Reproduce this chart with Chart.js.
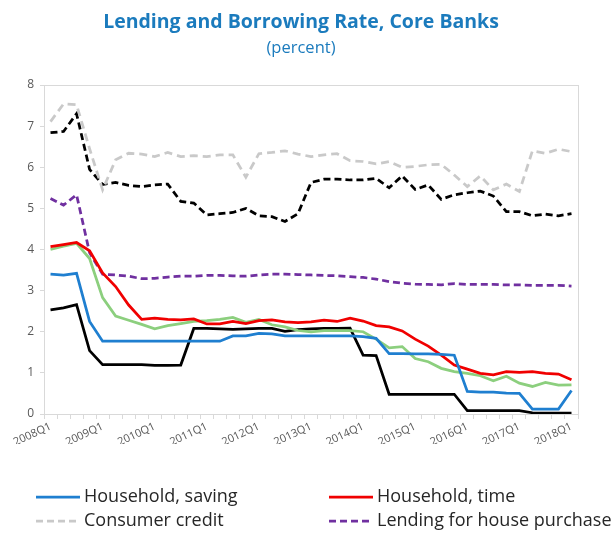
<!DOCTYPE html>
<html>
<head>
<meta charset="utf-8">
<title>Lending and Borrowing Rate, Core Banks</title>
<script src="https://cdn.jsdelivr.net/npm/chart.js@4/dist/chart.umd.min.js"></script>
<style>
  html, body { margin: 0; padding: 0; background: #ffffff; }
  #wrap { width: 611px; height: 533px; position: relative; }
</style>
</head>
<body>
<div id="wrap"><canvas id="chart"></canvas></div>
<script>
// Quarterly rates, percent
const quarters = [
  '2008Q1','2008Q2','2008Q3','2008Q4','2009Q1','2009Q2','2009Q3','2009Q4',
  '2010Q1','2010Q2','2010Q3','2010Q4','2011Q1','2011Q2','2011Q3','2011Q4',
  '2012Q1','2012Q2','2012Q3','2012Q4','2013Q1','2013Q2','2013Q3','2013Q4',
  '2014Q1','2014Q2','2014Q3','2014Q4','2015Q1','2015Q2','2015Q3','2015Q4',
  '2016Q1','2016Q2','2016Q3','2016Q4','2017Q1','2017Q2','2017Q3','2017Q4',
  '2018Q1'
];

const householdSaving = [
  3.40, 3.38, 3.42, 2.25, 1.77, 1.77, 1.77, 1.77, 1.77, 1.77,
  1.77, 1.77, 1.77, 1.77, 1.90, 1.90, 1.96, 1.95, 1.90, 1.90,
  1.90, 1.90, 1.90, 1.90, 1.88, 1.84, 1.47, 1.47, 1.46, 1.46,
  1.45, 1.43, 0.55, 0.53, 0.53, 0.51, 0.50, 0.12, 0.12, 0.12,
  0.57
];

const householdTime = [
  4.07, 4.12, 4.17, 3.97, 3.43, 3.10, 2.65, 2.30, 2.33, 2.30,
  2.29, 2.31, 2.19, 2.19, 2.25, 2.20, 2.27, 2.29, 2.24, 2.22,
  2.24, 2.28, 2.25, 2.33, 2.26, 2.15, 2.12, 2.02, 1.82, 1.65,
  1.43, 1.19, 1.09, 0.99, 0.95, 1.03, 1.01, 1.03, 0.99, 0.97,
  0.83
];

const consumerCredit = [
  7.11, 7.54, 7.52, 6.45, 5.45, 6.18, 6.34, 6.32, 6.26, 6.36,
  6.26, 6.28, 6.26, 6.30, 6.30, 5.76, 6.33, 6.36, 6.40, 6.32,
  6.26, 6.30, 6.33, 6.16, 6.14, 6.08, 6.14, 6.00, 6.02, 6.06,
  6.07, 5.81, 5.53, 5.79, 5.45, 5.59, 5.41, 6.40, 6.34, 6.44,
  6.38
];

const housePurchase = [
  5.24, 5.08, 5.33, 3.92, 3.40, 3.38, 3.35, 3.29, 3.30, 3.33,
  3.35, 3.35, 3.37, 3.37, 3.36, 3.35, 3.38, 3.40, 3.40, 3.39,
  3.38, 3.37, 3.36, 3.34, 3.32, 3.28, 3.22, 3.18, 3.16, 3.15,
  3.14, 3.17, 3.15, 3.15, 3.15, 3.14, 3.14, 3.13, 3.13, 3.13,
  3.11
];

const seriesBlackSolid = [
  2.53, 2.58, 2.66, 1.54, 1.20, 1.20, 1.20, 1.20, 1.18, 1.18,
  1.19, 2.08, 2.08, 2.07, 2.06, 2.07, 2.08, 2.08, 2.01, 2.05,
  2.07, 2.08, 2.08, 2.09, 1.43, 1.42, 0.48, 0.48, 0.48, 0.48,
  0.48, 0.48, 0.08, 0.08, 0.08, 0.08, 0.08, 0.03, 0.02, 0.02,
  0.02
];

const seriesBlackDashed = [
  6.84, 6.87, 7.30, 5.95, 5.58, 5.63, 5.56, 5.53, 5.57, 5.59,
  5.17, 5.13, 4.84, 4.87, 4.90, 5.00, 4.82, 4.80, 4.68, 4.87,
  5.63, 5.71, 5.71, 5.69, 5.69, 5.73, 5.50, 5.79, 5.46, 5.57,
  5.22, 5.33, 5.38, 5.42, 5.30, 4.92, 4.92, 4.82, 4.86, 4.82,
  4.87
];

const seriesGreen = [
  4.00, 4.08, 4.15, 3.78, 2.83, 2.38, 2.28, 2.18, 2.07, 2.15,
  2.20, 2.25, 2.27, 2.30, 2.35, 2.23, 2.30, 2.17, 2.12, 2.03,
  2.00, 2.03, 2.03, 2.03, 2.00, 1.82, 1.61, 1.64, 1.35, 1.27,
  1.11, 1.03, 0.99, 0.93, 0.81, 0.92, 0.75, 0.67, 0.77, 0.70,
  0.71
];

const yTicks = [0, 1, 2, 3, 4, 5, 6, 7, 8];

const FONT = "'Open Sans', 'DejaVu Sans', sans-serif";
const AXIS_GREY = '#d9d9d9';
const TICK_TEXT = '#595959';
const TITLE_BLUE = '#1b7bbd';

function line(label, data, color, width, dash) {
  return {
    label: label,
    data: data,
    borderColor: color,
    backgroundColor: color,
    borderWidth: width,
    borderDash: dash || [],
    pointRadius: 0,
    pointHoverRadius: 0,
    tension: 0,
    fill: false
  };
}

// Thin grey frame around the plotting area
const plotFrame = {
  id: 'plotFrame',
  beforeDatasetsDraw(chart) {
    const { ctx, chartArea: a } = chart;
    ctx.save();
    ctx.strokeStyle = AXIS_GREY;
    ctx.lineWidth = 1;
    ctx.strokeRect(Math.round(a.left) + 0.5, Math.round(a.top) + 0.5,
                   Math.round(a.right - a.left), Math.round(a.bottom - a.top));
    ctx.restore();
  }
};

// Two-column legend below the axis
const columnLegend = {
  id: 'columnLegend',
  afterDraw(chart, args, opts) {
    const ctx = chart.ctx;
    ctx.save();
    ctx.font = opts.font;
    ctx.textBaseline = 'middle';
    ctx.textAlign = 'left';
    opts.items.forEach((dsIndex, k) => {
      const ds = chart.data.datasets[dsIndex];
      const x = opts.columns[k % 2];
      const y = opts.rows[Math.floor(k / 2)];
      ctx.strokeStyle = ds.borderColor;
      ctx.lineWidth = opts.lineWidth;
      ctx.setLineDash(ds.borderDash.length ? opts.dash : []);
      ctx.beginPath();
      ctx.moveTo(x, y);
      ctx.lineTo(x + opts.sampleWidth, y);
      ctx.stroke();
      ctx.setLineDash([]);
      ctx.fillStyle = opts.color;
      ctx.fillText(ds.label, x + opts.sampleWidth + opts.gap, y);
    });
    ctx.restore();
  }
};

const datasets = [
  line('Household, saving', householdSaving, '#1f7fd0', 2.75),
  line('Household, time', householdTime, '#f00000', 2.75),
  line('Consumer credit', consumerCredit, '#c9c9c9', 2.75, [8, 5]),
  line('Lending for house purchase', housePurchase, '#7030a0', 2.75, [7, 4]),
  line('Green series', seriesGreen, '#8ccf7e', 2.75),
  line('Black dashed series', seriesBlackDashed, '#000000', 2.75, [7, 4]),
  line('Black series', seriesBlackSolid, '#000000', 2.75)
];

new Chart(document.getElementById('chart'), {
  type: 'line',
  data: { labels: quarters, datasets: datasets },
  plugins: [plotFrame, columnLegend],
  options: {
    responsive: true,
    maintainAspectRatio: false,
    animation: false,
    events: [],
    layout: { padding: { top: 0, right: 9, bottom: 89, left: 0 } },
    scales: {
      x: {
        type: 'category',
        offset: true,
        grid: {
          display: true,
          offset: true,
          drawOnChartArea: false,
          drawTicks: true,
          tickLength: 5,
          color: AXIS_GREY
        },
        border: { display: true, color: AXIS_GREY },
        ticks: {
          autoSkip: false,
          minRotation: 25,
          maxRotation: 25,
          padding: 1,
          color: TICK_TEXT,
          font: { family: FONT, size: 11 },
          callback: (value, index) => (index % 4 === 0 ? quarters[index] : '')
        },
        afterFit: (scale) => { scale.height = 30; }
      },
      y: {
        min: yTicks[0],
        max: yTicks[yTicks.length - 1],
        afterBuildTicks: (scale) => { scale.ticks = yTicks.map(v => ({ value: v })); },
        grid: {
          display: true,
          drawOnChartArea: false,
          drawTicks: true,
          tickLength: 4,
          color: AXIS_GREY
        },
        border: { display: true, color: AXIS_GREY },
        ticks: {
          color: TICK_TEXT,
          padding: 6,
          font: { family: FONT, size: 12 }
        },
        afterFit: (scale) => { scale.width = 44; }
      },
      // blank right-hand margin beside the plot
      yRight: {
        type: 'linear',
        position: 'right',
        min: yTicks[0],
        max: yTicks[yTicks.length - 1],
        grid: { display: false, drawTicks: false },
        border: { display: false },
        ticks: { display: false },
        afterFit: (scale) => { scale.width = 24; }
      }
    },
    plugins: {
      legend: { display: false },
      tooltip: { enabled: false },
      title: {
        display: true,
        text: 'Lending and Borrowing Rate, Core Banks',
        color: TITLE_BLUE,
        font: { family: FONT, size: 19.5, weight: 'bold' },
        padding: { top: 11, bottom: 4 }
      },
      subtitle: {
        display: true,
        text: '(percent)',
        color: TITLE_BLUE,
        font: { family: FONT, size: 16.5, weight: 'normal' },
        padding: { top: 0, bottom: 26.8 }
      },
      columnLegend: {
        items: [0, 1, 2, 3],
        columns: [36, 329],
        rows: [497, 521],
        sampleWidth: 44,
        gap: 4,
        lineWidth: 2.75,
        dash: [7, 4],
        color: '#262626',
        font: "18px 'Open Sans', 'DejaVu Sans', sans-serif"
      }
    }
  }
});
</script>
</body>
</html>
